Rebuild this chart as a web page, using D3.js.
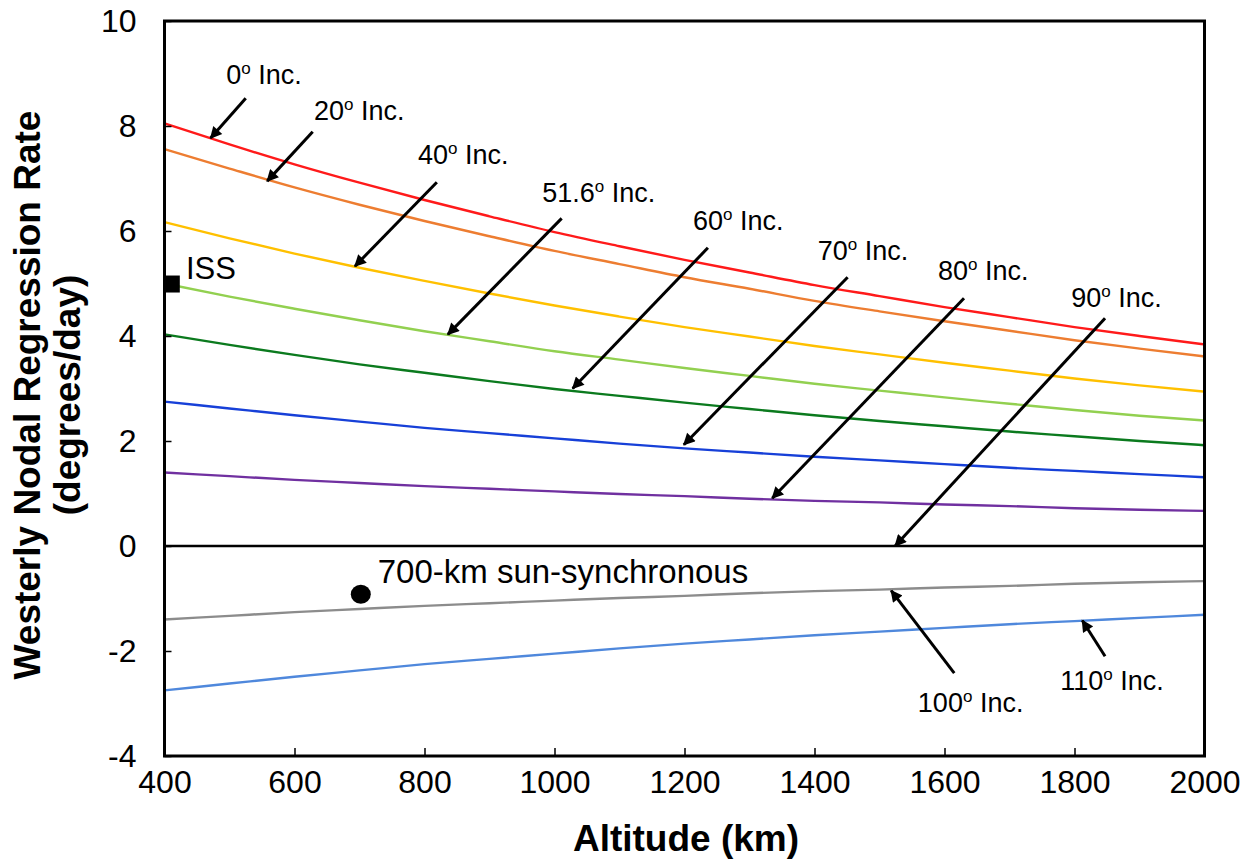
<!DOCTYPE html>
<html><head><meta charset="utf-8">
<script src="https://cdn.jsdelivr.net/npm/d3@7"></script>
<style>
body{margin:0;background:#fff}
svg{display:block}
text{font-family:"Liberation Sans",Arial,sans-serif;fill:#000}
</style>
</head><body><svg id="c" width="1250" height="861"></svg>
<script>
// ---- data ----
const altitudes = [400,500,600,700,800,900,1000,1100,1200,1300,1400,1500,1600,1700,1800,1900,2000];
const inc0   = [8.05,7.65,7.27,6.92,6.59,6.28,5.98,5.71,5.45,5.21,4.97,4.76,4.55,4.36,4.17,4.00,3.84];
const inc20  = [7.56,7.19,6.83,6.50,6.19,5.90,5.62,5.37,5.12,4.90,4.67,4.47,4.28,4.10,3.92,3.76,3.61];
const inc40  = [6.17,5.86,5.57,5.30,5.05,4.81,4.58,4.37,4.17,3.99,3.81,3.65,3.49,3.34,3.19,3.06,2.94];
const inc516 = [5.00,4.75,4.52,4.30,4.09,3.90,3.71,3.55,3.39,3.24,3.09,2.96,2.83,2.71,2.59,2.48,2.39];
const inc60  = [4.03,3.83,3.64,3.46,3.30,3.14,2.99,2.86,2.73,2.61,2.49,2.38,2.28,2.18,2.09,2.00,1.92];
const inc70  = [2.75,2.62,2.49,2.37,2.25,2.15,2.05,1.95,1.86,1.78,1.70,1.63,1.56,1.49,1.43,1.37,1.31];
const inc80  = [1.40,1.33,1.26,1.20,1.14,1.09,1.04,0.99,0.95,0.90,0.86,0.83,0.79,0.76,0.72,0.69,0.67];
const inc100 = [-1.40,-1.33,-1.26,-1.20,-1.14,-1.09,-1.04,-0.99,-0.95,-0.90,-0.86,-0.83,-0.79,-0.76,-0.72,-0.69,-0.67];
const inc110 = [-2.75,-2.62,-2.49,-2.37,-2.25,-2.15,-2.05,-1.95,-1.86,-1.78,-1.70,-1.63,-1.56,-1.49,-1.43,-1.37,-1.31];
const seriesColors = ["#ff1a1a","#ed7d31","#ffc000","#92d050","#0b7a1e","#1740d8","#7030a0","#8c8c8c","#4f88dc"];
const xTicks = [400,600,800,1000,1200,1400,1600,1800,2000];
const yTicks = [-4,-2,0,2,4,6,8,10];
const xTitle = "Altitude (km)";
const yTitle = ["Westerly Nodal Regression Rate","(degrees/day)"];
const issPoint = {alt:412, rate:4.99, label:"ISS", lalt:433, lrate:5.09};
const sunSyncPoint = {alt:702, rate:-0.92, label:"700-km sun-synchronous", lalt:728, lrate:-0.70};
// label: left/baseline; arrow tail -> tip, in data units
const annotations = [
  {deg:"0",   lalt:495,  lrate:8.80,  talt:525,  trate:8.53,  halt:471,  hrate:7.77},
  {deg:"20",  lalt:630,  lrate:8.11,  talt:628,  trate:7.89,  halt:558,  hrate:6.95},
  {deg:"40",  lalt:790,  lrate:7.28,  talt:819,  trate:6.93,  halt:693,  hrate:5.33},
  {deg:"51.6",lalt:981,  lrate:6.55,  talt:1011, trate:6.24,  halt:836,  hrate:4.03},
  {deg:"60",  lalt:1213, lrate:6.02,  talt:1236, trate:5.68,  halt:1028, hrate:3.00},
  {deg:"70",  lalt:1405, lrate:5.45,  talt:1451, trate:5.12,  halt:1199, hrate:1.93},
  {deg:"80",  lalt:1590, lrate:5.07,  talt:1630, trate:4.72,  halt:1335, hrate:0.91},
  {deg:"90",  lalt:1795, lrate:4.55,  talt:1847, trate:4.34,  halt:1524, hrate:0.00},
  {deg:"100", lalt:1559, lrate:-3.16, talt:1615, trate:-2.42, halt:1518, hrate:-0.85},
  {deg:"110", lalt:1778, lrate:-2.74, talt:1847, trate:-2.10, halt:1812, hrate:-1.42}
];

const seriesValues = [inc0,inc20,inc40,inc516,inc60,inc70,inc80,inc100,inc110];

// ---- layout ----
const L=164.5, R=1204.5, T=21, B=756;
const svg = d3.select("#c");
const x = d3.scaleLinear().domain([400,2000]).range([L,R]);
const y = d3.scaleLinear().domain([-4,10]).range([B,T]);

svg.append("defs").append("marker")
  .attr("id","ah").attr("viewBox","0 0 10 10").attr("refX",9).attr("refY",5)
  .attr("markerWidth",14).attr("markerHeight",12).attr("markerUnits","userSpaceOnUse")
  .attr("orient","auto")
  .append("path").attr("d","M0,0 L10,5 L0,10 Z").attr("fill","#000");

// series lines
const line = d3.line().x((d,i)=>x(altitudes[i])).y(d=>y(d)).curve(d3.curveMonotoneX);
seriesValues.forEach((vals,k)=>{
  svg.append("path").attr("d",line(vals)).attr("fill","none")
    .attr("stroke",seriesColors[k]).attr("stroke-width",2.4);
});

// zero line
svg.append("line").attr("x1",L).attr("x2",R).attr("y1",y(0)).attr("y2",y(0))
  .attr("stroke","#000").attr("stroke-width",2.5);

// axes
const fmt = d => String(d);
const gx = svg.append("g").attr("transform",`translate(0,${B})`)
  .call(d3.axisBottom(x).tickValues(xTicks).tickFormat(fmt).tickSizeInner(-8).tickSizeOuter(0).tickPadding(14));
const gy = svg.append("g").attr("transform",`translate(${L},0)`)
  .call(d3.axisLeft(y).tickValues(yTicks).tickFormat(fmt).tickSizeInner(-7).tickSizeOuter(0).tickPadding(28));
[gx,gy].forEach(g=>{
  g.select(".domain").remove();
  g.selectAll(".tick line").attr("stroke","#000").attr("stroke-width",1.5);
  g.selectAll(".tick text").attr("font-size",32).attr("font-family","Liberation Sans, Arial, sans-serif").attr("fill","#000");
});

// frame
svg.append("rect").attr("x",L).attr("y",T).attr("width",R-L).attr("height",B-T)
  .attr("fill","none").attr("stroke","#000").attr("stroke-width",3);

// titles
svg.append("text").attr("x",686).attr("y",851).attr("text-anchor","middle")
  .attr("font-size",37).attr("font-weight","bold").text(xTitle);
const yc=395;
svg.append("text").attr("transform",`translate(40,${yc}) rotate(-90)`).attr("text-anchor","middle")
  .attr("font-size",37).attr("font-weight","bold").text(yTitle[0]);
svg.append("text").attr("transform",`translate(80,${yc}) rotate(-90)`).attr("text-anchor","middle")
  .attr("font-size",37).attr("font-weight","bold").text(yTitle[1]);

// ISS marker
svg.append("rect").attr("x",x(issPoint.alt)-7.5).attr("y",y(issPoint.rate)-8.5)
  .attr("width",15).attr("height",17).attr("fill","#000");
svg.append("text").attr("x",x(issPoint.lalt)).attr("y",y(issPoint.lrate)).attr("font-size",31).text(issPoint.label);

// sun-synchronous marker
svg.append("ellipse").attr("cx",x(sunSyncPoint.alt)).attr("cy",y(sunSyncPoint.rate))
  .attr("rx",10).attr("ry",9.5).attr("fill","#000");
svg.append("text").attr("x",x(sunSyncPoint.lalt)).attr("y",y(sunSyncPoint.lrate)).attr("font-size",33).text(sunSyncPoint.label);

// annotations
annotations.forEach(a=>{
  const x1=x(a.talt), y1=y(a.trate), x2=x(a.halt), y2=y(a.hrate);
  svg.append("line").attr("x1",x1).attr("y1",y1).attr("x2",x2).attr("y2",y2)
    .attr("stroke","#000").attr("stroke-width",3).attr("marker-end","url(#ah)");
  const t = svg.append("text").attr("x",x(a.lalt)).attr("y",y(a.lrate)).attr("font-size",27);
  t.append("tspan").text(a.deg);
  t.append("tspan").attr("font-size",17).attr("dy",-10).text("o");
  t.append("tspan").attr("dy",10).text(" Inc.");
});
</script></body></html>
